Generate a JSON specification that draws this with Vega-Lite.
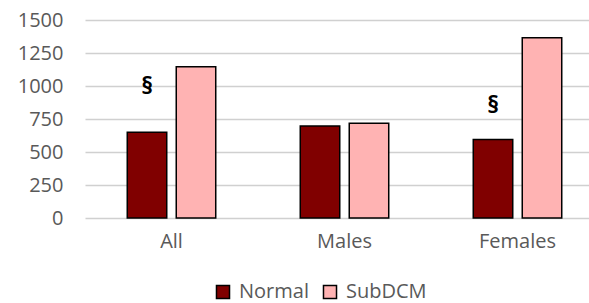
{
  "$schema": "https://vega.github.io/schema/vega-lite/v6.json",
  "width": 504,
  "height": 198,
  "autosize": {"type": "none"},
  "padding": {"left": 85, "top": 20, "right": 0, "bottom": 85},
  "config": {"view": {"stroke": null}, "font": "Open Sans"},
  "data": {
    "values": [
      {"group": "All", "series": "Normal", "value": 649},
      {"group": "All", "series": "SubDCM", "value": 1145},
      {"group": "Males", "series": "Normal", "value": 697},
      {"group": "Males", "series": "SubDCM", "value": 717},
      {"group": "Females", "series": "Normal", "value": 594},
      {"group": "Females", "series": "SubDCM", "value": 1365},
      {"group": "All", "series": "Normal", "value": 995, "sig": "§"},
      {"group": "Females", "series": "Normal", "value": 850, "sig": "§"}
    ]
  },
  "encoding": {
    "x": {
      "field": "group", "type": "nominal", "sort": ["All", "Males", "Females"],
      "scale": {"range": [0, 519], "paddingInner": 0, "paddingOuter": 0},
      "axis": {"title": null, "labelAngle": 0, "labelFontSize": 20, "labelColor": "#595959", "domain": false, "ticks": false, "labelPadding": 13}
    },
    "xOffset": {"field": "series", "type": "nominal", "sort": ["Normal", "SubDCM"], "scale": {"paddingInner": 0.194, "paddingOuter": 0.8625}},
    "y": {
      "field": "value", "type": "quantitative",
      "scale": {"domain": [0, 1500], "nice": false},
      "axis": {"title": null, "values": [0, 250, 500, 750, 1000, 1250, 1500], "format": "d", "labelOverlap": false, "labelFontSize": 20, "labelColor": "#595959", "domain": false, "ticks": false, "labelPadding": 22, "gridColor": "#D0D0D0", "gridWidth": 1.5}
    }
  },
  "layer": [
    {
      "transform": [{"filter": "!datum.sig"}],
      "mark": {"type": "bar", "stroke": "black", "strokeWidth": 1.5},
      "encoding": {
        "color": {
          "field": "series", "type": "nominal",
          "scale": {"domain": ["Normal", "SubDCM"], "range": ["#800000", "#FFB3B3"]},
          "legend": {"title": null, "orient": "none", "legendX": 128, "legendY": 262, "direction": "horizontal", "symbolType": "square", "symbolSize": 170, "symbolStrokeColor": "black", "symbolStrokeWidth": 1.5, "labelFontSize": 20, "labelColor": "#595959", "columnPadding": 11, "labelOffset": 6}
        }
      }
    },
    {
      "transform": [{"filter": "datum.sig"}],
      "mark": {"type": "text", "fontSize": 24, "fontWeight": "bold", "baseline": "middle", "color": "black"},
      "encoding": {
        "text": {"field": "sig"}
      }
    }
  ]
}
